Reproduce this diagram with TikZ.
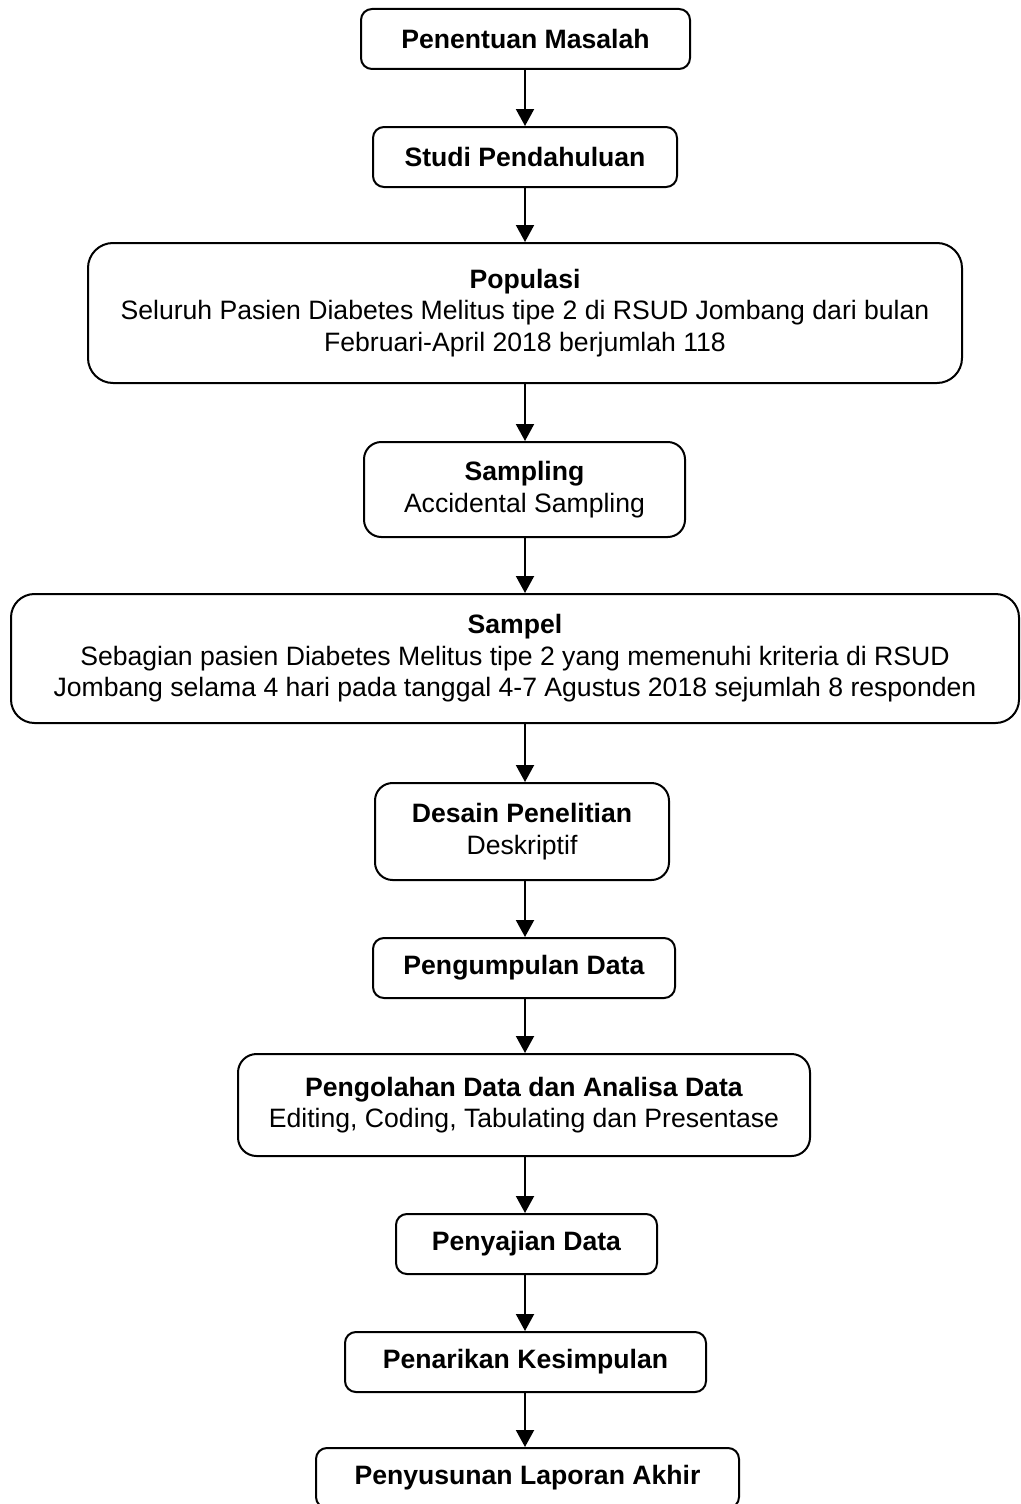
\documentclass[tikz,border=0pt]{standalone}
\usepackage{fontspec}
\setmainfont{Liberation Sans}
\usetikzlibrary{arrows.meta}
\tikzset{
  box/.style={draw=black, line width=2pt, align=center, inner sep=0pt,
    font=\fontsize{26.6}{31.5}\selectfont},
  flow/.style={draw=black, line width=2pt, -{Triangle[width=18pt,length=17pt]}}
}
\newcommand{\mkbox}[6]{% name, x1, y1, x2, y2, text
  \pgfmathsetmacro{\bw}{#4-#2}\pgfmathsetmacro{\bh}{#5-#3}
  \pgfmathsetmacro{\rr}{min(\bh/5.5,25)}
  \node[box, minimum width=\bw pt, minimum height=\bh pt, rounded corners=\rr pt]
    (#1) at ({(#2+#4)/2},{(#3+#5)/2}) {#6};}
\begin{document}
\begin{tikzpicture}[x=1pt,y=-1pt]
\useasboundingbox (0,0) rectangle (1020,1504);
\mkbox{a}{361}{9}{690}{69}{\textbf{Penentuan Masalah}}
\mkbox{b}{373}{127}{677}{187}{\textbf{Studi Pendahuluan}}
\mkbox{c}{88}{243}{962}{383}{\textbf{Populasi}\\Seluruh Pasien Diabetes Melitus tipe 2 di RSUD Jombang dari bulan\\Februari-April 2018 berjumlah 118}
\mkbox{d}{364}{442}{685}{537}{\textbf{Sampling}\\Accidental Sampling}
\mkbox{e}{11}{594}{1019}{723}{\textbf{Sampel}\\Sebagian pasien Diabetes Melitus tipe 2 yang memenuhi kriteria di RSUD\\Jombang selama 4 hari pada tanggal 4-7 Agustus 2018 sejumlah 8 responden}
\mkbox{f}{375}{783}{669}{880}{\textbf{Desain Penelitian}\\Deskriptif}
\mkbox{g}{373}{938}{675}{998}{\textbf{Pengumpulan Data}}
\mkbox{h}{238}{1054}{810}{1156}{\textbf{Pengolahan Data dan Analisa Data}\\Editing, Coding, Tabulating dan Presentase}
\mkbox{i}{396}{1214}{657}{1274}{\textbf{Penyajian Data}}
\mkbox{j}{345}{1332}{706}{1392}{\textbf{Penarikan Kesimpulan}}
\mkbox{k}{316}{1448}{739}{1508}{\textbf{Penyusunan Laporan Akhir}}
\foreach \p/\q in {a/b,b/c,c/d,d/e,e/f,f/g,g/h,h/i,i/j,j/k}{
  \draw[flow] (525,0 |- \p.south) -- (525,0 |- \q.north);
}
\end{tikzpicture}
\end{document}
